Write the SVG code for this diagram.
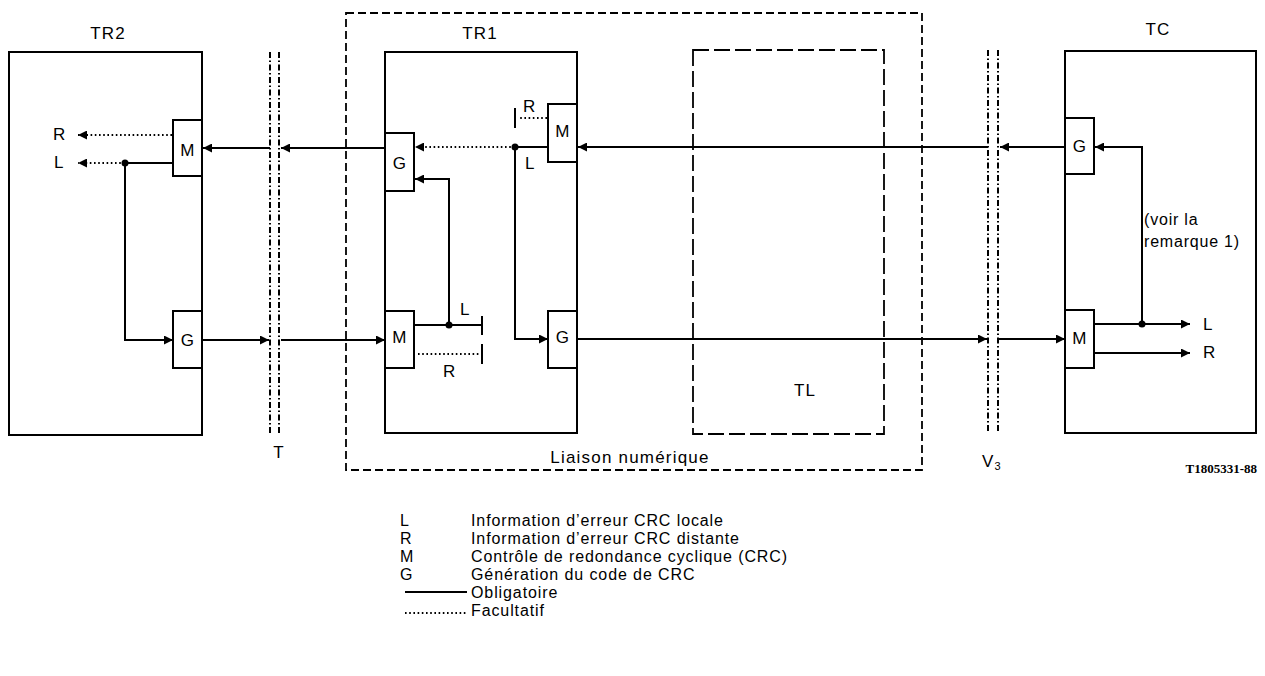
<svg xmlns="http://www.w3.org/2000/svg" width="1265" height="676" viewBox="0 0 1265 676">
<style>
text{font-family:"Liberation Sans",Arial,sans-serif;font-size:17px;fill:#000;letter-spacing:1.2px}
.mid{text-anchor:middle}
.box{fill:none;stroke:#000;stroke-width:2}
.blk{fill:#fff;stroke:#000;stroke-width:2}
.sol{fill:none;stroke:#000;stroke-width:2}
.dot{fill:none;stroke:#000;stroke-width:2;stroke-dasharray:1.6 2.6}
.iface{fill:none;stroke:#000;stroke-width:2;stroke-dasharray:6 2.5 1.5 2.5}
.outer{fill:none;stroke:#000;stroke-width:1.8;stroke-dasharray:8 4}
.tl{fill:none;stroke:#000;stroke-width:1.8;stroke-dasharray:16 5}
.ar{marker-end:url(#ah)}
.lg{font-size:16px;letter-spacing:0.9px}
.code{font-family:"Liberation Serif","Times New Roman",serif;font-weight:bold;font-size:13px;letter-spacing:0;text-anchor:end}
</style>
<defs>
<marker id="ah" viewBox="0 0 10 10" refX="10" refY="5" markerWidth="9" markerHeight="9" markerUnits="userSpaceOnUse" orient="auto"><path d="M0,0 L10,5 L0,10 z" fill="#000"/></marker>
</defs>

<g id="liaison">
<rect class="outer" x="346" y="13" width="576" height="457"/>
<text class="mid" x="630" y="463">Liaison numérique</text>
</g>

<g id="TR2">
<rect class="box" x="9" y="52" width="193" height="383"/>
<text class="mid" x="108" y="39">TR2</text>
</g>
<g id="TR2-M"><rect class="blk" x="173" y="120" width="29" height="56"/><text class="mid" x="188" y="156">M</text></g>
<g id="TR2-G"><rect class="blk" x="173" y="311" width="29" height="57"/><text class="mid" x="188" y="346">G</text></g>

<g id="T">
<line class="iface" x1="270" y1="52" x2="270" y2="435"/>
<line class="iface" x1="279" y1="52" x2="279" y2="435"/>
<text class="mid" x="279" y="458">T</text>
</g>

<g id="TR1">
<rect class="box" x="385" y="52" width="192" height="381"/>
<text class="mid" x="480" y="39">TR1</text>
</g>
<g id="TR1-G1"><rect class="blk" x="385" y="133" width="29" height="58"/><text class="mid" x="400" y="169">G</text></g>
<g id="TR1-M1"><rect class="blk" x="548" y="104" width="29" height="58"/><text class="mid" x="563" y="137">M</text></g>
<g id="TR1-M2"><rect class="blk" x="385" y="311" width="29" height="57"/><text class="mid" x="400" y="343">M</text></g>
<g id="TR1-G2"><rect class="blk" x="548" y="311" width="29" height="57"/><text class="mid" x="563" y="343">G</text></g>

<g id="TL">
<rect class="tl" x="693" y="50" width="191" height="384"/>
<text class="mid" x="805" y="396">TL</text>
</g>

<g id="V3">
<line class="iface" x1="988" y1="50" x2="988" y2="433"/>
<line class="iface" x1="998" y1="50" x2="998" y2="433"/>
<text x="982" y="467">V<tspan font-size="11" dy="3">3</tspan></text>
</g>

<g id="TC">
<rect class="box" x="1065" y="51" width="191" height="382"/>
<text class="mid" x="1158" y="35">TC</text>
<text x="1144" y="225" style="font-size:16px;letter-spacing:0.8px">(voir la</text>
<text x="1144" y="247" style="font-size:16px;letter-spacing:0.8px">remarque 1)</text>
</g>
<g id="TC-G"><rect class="blk" x="1065" y="118" width="29" height="56"/><text class="mid" x="1080" y="152">G</text></g>
<g id="TC-M"><rect class="blk" x="1065" y="310" width="29" height="58"/><text class="mid" x="1080" y="344">M</text></g>

<g id="connectors">
<path class="sol ar" d="M385,148 H281"/>
<path class="sol ar" d="M270,148 H203"/>
<path class="dot ar" d="M172,135 H78"/>
<path class="sol" d="M173,163 H125"/>
<path class="dot ar" d="M125,163 H78"/>
<path class="sol ar" d="M125,163 V340 H173"/>
<path class="sol ar" d="M202,340 H269"/>
<path class="sol ar" d="M281,340 H385"/>
<path class="sol" d="M414,325 H482 M482,316 V335"/>
<path class="dot" d="M418,354 H480"/>
<path class="sol" d="M482,344 V364"/>
<path class="sol ar" d="M449,325 V179 H415"/>
<path class="sol ar" d="M1065,147 H1000"/>
<path class="sol ar" d="M988,147 H578"/>
<path class="sol" d="M548,147 H515"/>
<path class="dot ar" d="M515,147 H415"/>
<path class="dot" d="M547,118 H519"/>
<path class="sol" d="M515,108 V128"/>
<path class="sol ar" d="M515,147 V339 H548"/>
<path class="sol ar" d="M577,339 H987"/>
<path class="sol ar" d="M998,339 H1065"/>
<path class="sol ar" d="M1142,324 V147 H1095"/>
<path class="sol ar" d="M1094,324 H1190"/>
<path class="sol ar" d="M1094,353 H1190"/>
<circle cx="125" cy="163" r="3.5"/>
<circle cx="449" cy="325" r="3.5"/>
<circle cx="515" cy="147" r="3.5"/>
<circle cx="1142" cy="324" r="3.5"/>
</g>

<g id="labels">
<text x="53" y="140">R</text>
<text x="54" y="168">L</text>
<text x="523" y="112">R</text>
<text x="525" y="169">L</text>
<text x="460" y="315">L</text>
<text x="443" y="377">R</text>
<text x="1203" y="330">L</text>
<text x="1203" y="358">R</text>
<text class="code" x="1257" y="473">T1805331-88</text>
</g>

<g id="legend">
<text class="lg" x="400" y="526">L</text>
<text class="lg" x="400" y="544">R</text>
<text class="lg" x="400" y="562">M</text>
<text class="lg" x="400" y="580">G</text>
<text class="lg" x="471" y="526">Information d’erreur CRC locale</text>
<text class="lg" x="471" y="544">Information d’erreur CRC distante</text>
<text class="lg" x="471" y="562">Contrôle de redondance cyclique (CRC)</text>
<text class="lg" x="471" y="580">Génération du code de CRC</text>
<line class="sol" x1="405" y1="592" x2="467" y2="592"/>
<text class="lg" x="471" y="598">Obligatoire</text>
<line class="dot" x1="405" y1="613" x2="466" y2="613"/>
<text class="lg" x="471" y="616">Facultatif</text>
</g>
</svg>
